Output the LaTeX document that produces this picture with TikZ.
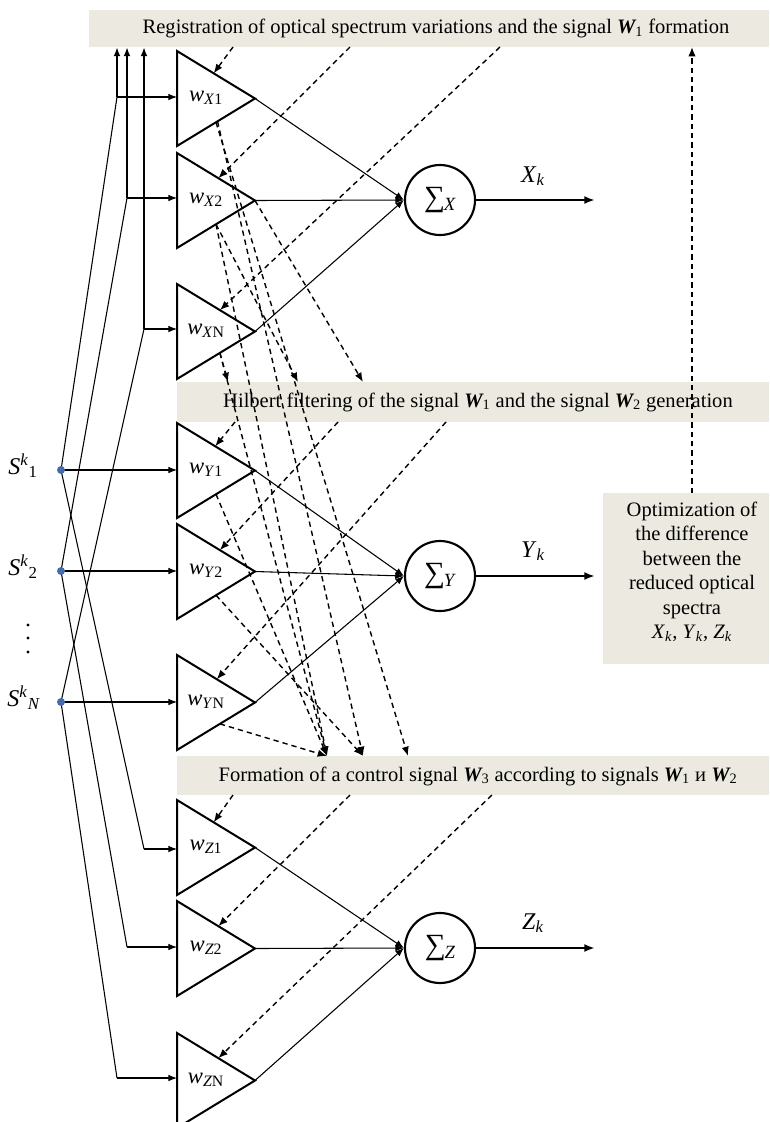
\documentclass[tikz,border=0pt]{standalone}
\usepackage{fontspec}
\setmainfont{Liberation Serif}
\usetikzlibrary{arrows.meta,calc}
\definecolor{bannerbg}{RGB}{236,234,224}
\definecolor{dotblue}{RGB}{68,108,170}
\newcommand\mytri[3]{%
  \coordinate (#1t) at (177,#2);
  \coordinate (#1b) at (177,#2+95);
  \coordinate (#1a) at (255,#2+47.5);
  \coordinate (#1i) at (177,#2+47.5);
  \draw[tri] (#1t) -- (#1a) -- (#1b) -- cycle;
  \node[wlab] (#1l) at (206,#2+47) {#3};
}
\newcommand\wl[2]{\textit{w}\textsubscript{\textit{#1}#2}}
\newcommand\sumsym[1]{{\fontsize{22}{24}\selectfont ∑}\kern-1pt\raisebox{-3pt}{\fontsize{14}{16}\selectfont\textit{#1}}}
\begin{document}
\begin{tikzpicture}[x=0.75pt,y=-0.75pt,
  tri/.style={line width=1.5pt,line join=miter},
  wlab/.style={font=\fontsize{17}{19}\selectfont,inner sep=0pt},
  btext/.style={font=\fontsize{15.4}{18}\selectfont,inner sep=0pt},
  banner/.style={fill=bannerbg,draw=none,inner sep=0pt,anchor=north west},
  conn/.style={line width=0.8pt,-{Latex[length=6.5pt,width=5pt]}},
  plain/.style={line width=0.8pt},
  outc/.style={line width=2pt,-{Latex[length=8pt,width=6pt]}},
  dsh/.style={line width=1.05pt,dash pattern=on 4pt off 3pt,-{Latex[length=7pt,width=5.5pt]}},
  sumc/.style={circle,draw,line width=1.6pt,minimum size=52.5pt,inner sep=0pt},
  sdot/.style={circle,fill=dotblue,minimum size=6pt,inner sep=0pt},
  slab/.style={font=\fontsize{18}{20}\selectfont,inner sep=0pt}
]
\useasboundingbox (0,0) rectangle (769,1122);
% banners
\node[banner,minimum width=510pt,minimum height=27.75pt] (ban1) at (89,10) {};
\node[banner,minimum width=444pt,minimum height=30pt] (ban2) at (177,382) {};
\node[banner,minimum width=444pt,minimum height=29.25pt] (ban3) at (177,756) {};
\node[banner,minimum width=124.5pt,minimum height=128.25pt] (opt) at (603,493) {};
\node[btext] (ban1t) at (436,28.5) {Registration of optical spectrum variations and the signal {\bfseries\itshape W}\textsubscript{1} formation};
\node[btext] (ban2t) at (478,402) {Hilbert filtering of the signal {\bfseries\itshape W}\textsubscript{1} and the signal {\bfseries\itshape W}\textsubscript{2} generation};
\node[btext] (ban3t) at (478,776) {Formation of a control signal {\bfseries\itshape W}\textsubscript{3} according to signals {\bfseries\itshape W}\textsubscript{1} и {\bfseries\itshape W}\textsubscript{2}};
\node[btext,align=center,font=\fontsize{15.4}{18.3}\selectfont] (optt) at (692,572) {Optimization of\\the difference\\between the\\reduced optical\\spectra\\\textit{X}\textsubscript{\textit{k}}, \textit{Y}\textsubscript{\textit{k}}, \textit{Z}\textsubscript{\textit{k}}};
% triangles
\mytri{X1}{51}{\wl{X}{1}}
\mytri{X2}{153}{\wl{X}{2}}
\mytri{XN}{284}{\wl{X}{N}}
\mytri{Y1}{423}{\wl{Y}{1}}
\mytri{Y2}{524}{\wl{Y}{2}}
\mytri{YN}{655}{\wl{Y}{N}}
\mytri{Z1}{800}{\wl{Z}{1}}
\mytri{Z2}{901}{\wl{Z}{2}}
\mytri{ZN}{1033}{\wl{Z}{N}}
% sums
\node[sumc] (SX) at (440,200) {\sumsym{X}};
\node[sumc] (SY) at (440,576) {\sumsym{Y}};
\node[sumc] (SZ) at (440,948) {\sumsym{Z}};
\foreach \g in {X,Y,Z}{
  \draw[conn] (\g1a) -- (S\g.west);
  \draw[conn] (\g2a) -- (S\g.west);
  \draw[conn] (\g Na) -- (S\g.west);
}
\coordinate (XoE) at (595,200);
\coordinate (YoE) at (595,576);
\coordinate (ZoE) at (595,948);
\draw[outc] (SX.east) -- (XoE);
\draw[outc] (SY.east) -- (YoE);
\draw[outc] (SZ.east) -- (ZoE);
\node[slab] (Xk) at (533,176) {\textit{X}\textsubscript{\textit{k}}};
\node[slab] (Yk) at (533,551) {\textit{Y}\textsubscript{\textit{k}}};
\node[slab] (Zk) at (533,923) {\textit{Z}\textsubscript{\textit{k}}};
% inputs
\coordinate (s1) at (61,470);
\coordinate (s2) at (61,571);
\coordinate (sN) at (61,702);
\coordinate (j1) at (117,97);
\coordinate (j2) at (127,198);
\coordinate (j3) at (144,329);
\coordinate (k1) at (144,849);
\coordinate (k2) at (127,947);
\coordinate (k3) at (117,1078);
\draw[plain] (s1) -- (j1);
\draw[plain] (s2) -- (j2);
\draw[plain] (sN) -- (j3);
\draw[conn] (j1) -- (j1 -| X1t);
\draw[conn] (j2) -- (j2 -| X2t);
\draw[conn] (j3) -- (j3 -| XNt);
\draw[conn] (j1) -- (j1 |- ban1.south);
\draw[conn] (j2) -- (j2 |- ban1.south);
\draw[conn] (j3) -- (j3 |- ban1.south);
\draw[conn] (s1) -- (s1 -| Y1t);
\draw[conn] (s2) -- (s2 -| Y2t);
\draw[conn] (sN) -- (sN -| YNt);
\draw[plain] (s1) -- (k1);
\draw[plain] (s2) -- (k2);
\draw[plain] (sN) -- (k3);
\draw[conn] (k1) -- (k1 -| Z1t);
\draw[conn] (k2) -- (k2 -| Z2t);
\draw[conn] (k3) -- (k3 -| ZNt);
\node[sdot] (d1) at (s1) {};
\node[sdot] (d2) at (s2) {};
\node[sdot] (dN) at (sN) {};
\node[slab] (S1l) at (23,466) {\textit{S}\textsuperscript{\textit{k}}\textsubscript{1}};
\node[slab] (S2l) at (23,567) {\textit{S}\textsuperscript{\textit{k}}\textsubscript{2}};
\node[slab] (SNl) at (24,698) {\textit{S}\textsuperscript{\textit{k}}\textsubscript{\textit{N}}};
\fill (28,625) circle (1.6);
\fill (28,638) circle (1.6);
\fill (28,652) circle (1.6);
% dashed: banners to triangles
\coordinate (a1) at (233,47);
\coordinate (a2) at (350,47);
\coordinate (a3) at (500,47);
\coordinate (b1) at (235,422);
\coordinate (b2) at (338,422);
\coordinate (b3) at (446,422);
\coordinate (c1) at (233,795);
\coordinate (c2) at (350,795);
\coordinate (c3) at (492,795);
\draw[dsh] (a1) -- ($(X1t)!0.47!(X1a)$);
\draw[dsh] (a2) -- ($(X2t)!0.53!(X2a)$);
\draw[dsh] (a3) -- ($(XNt)!0.55!(XNa)$);
\draw[dsh] (b1) -- ($(Y1t)!0.49!(Y1a)$);
\draw[dsh] (b2) -- ($(Y2t)!0.55!(Y2a)$);
\draw[dsh] (b3) -- ($(YNt)!0.51!(YNa)$);
\draw[dsh] (c1) -- ($(Z1t)!0.47!(Z1a)$);
\draw[dsh] (c2) -- ($(Z2t)!0.53!(Z2a)$);
\draw[dsh] (c3) -- ($(ZNt)!0.53!(ZNa)$);
% dashed: triangles to banners
\coordinate (e1) at (228,382);
\coordinate (e2) at (298,382);
\coordinate (e3) at (363,382);
\coordinate (f1) at (327,756);
\coordinate (f2) at (363,756);
\coordinate (f3) at (408,756);
\draw[dsh] ($(X1b)!0.5!(X1a)$) -- (f3);
\draw[dsh] ($(X1b)!0.52!(X1a)$) -- (f2);
\draw[dsh] ($(X2b)!0.5!(X2a)$) -- (e2);
\draw[dsh] ($(X2b)!0.5!(X2a)$) -- (f1);
\draw[dsh] (X2a) -- (e3);
\draw[dsh] ($(XNb)!0.55!(XNa)$) -- (e1);
\draw[dsh] ($(XNb)!0.55!(XNa)$) -- (f1);
\draw[dsh] ($(Y1b)!0.5!(Y1a)$) -- (f1);
\draw[dsh] ($(Y2b)!0.5!(Y2a)$) -- (f2);
\draw[dsh] ($(YNb)!0.55!(YNa)$) -- (f1);
% optimization feedback
\coordinate (o1) at (692,493);
\coordinate (o2) at (692,47);
\draw[dsh] (o1) -- (o2);
\end{tikzpicture}
\end{document}
